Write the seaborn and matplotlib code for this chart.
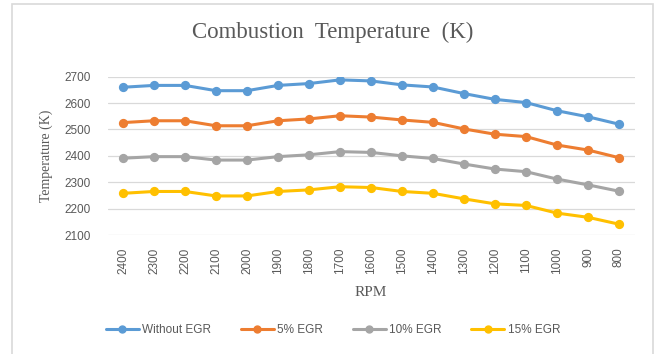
import matplotlib
matplotlib.use("Agg")
import matplotlib.pyplot as plt
from matplotlib.patches import Rectangle
from matplotlib.lines import Line2D
import seaborn as sns
import pandas as pd

rpm = ["2400", "2300", "2200", "2100", "2000", "1900", "1800", "1700", "1600",
       "1500", "1400", "1300", "1200", "1100", "1000", "900", "800"]
without_egr = [2660, 2667, 2667, 2647, 2647, 2667, 2674, 2688, 2684,
               2669, 2661, 2636, 2614, 2602, 2571, 2548, 2520]
egr_5 = [2526, 2533, 2533, 2514, 2514, 2533, 2540, 2552, 2547,
         2536, 2527, 2502, 2482, 2473, 2441, 2422, 2393]
egr_10 = [2391, 2397, 2397, 2384, 2384, 2397, 2404, 2416, 2413,
          2400, 2390, 2369, 2350, 2340, 2312, 2290, 2266]
egr_15 = [2258, 2265, 2265, 2248, 2248, 2265, 2271, 2283, 2280,
          2265, 2258, 2237, 2218, 2212, 2183, 2167, 2141]
series_names = ["Without EGR", "5% EGR", "10% EGR", "15% EGR"]
y_ticks = [2100, 2200, 2300, 2400, 2500, 2600, 2700]

colors = ["#5B9BD5", "#ED7D31", "#A5A5A5", "#FFC000"]
text_gray = "#595959"
sans = ["Liberation Sans Narrow", "Liberation Sans", "DejaVu Sans"]
serif = ["Liberation Serif", "DejaVu Serif"]

sns.set_theme(style="white")
plt.rcParams["font.family"] = sans

frames = []
for name, vals in zip(series_names, [without_egr, egr_5, egr_10, egr_15]):
    frames.append(pd.DataFrame({"RPM": rpm, "Temp": vals, "Series": name}))
df = pd.concat(frames, ignore_index=True)

fig = plt.figure(figsize=(6.57, 3.54), dpi=100)
ax = fig.add_axes([107.5 / 657, 1 - 235 / 354, (634.5 - 107.5) / 657, (235 - 76.7) / 354])

sns.pointplot(data=df, x="RPM", y="Temp", hue="Series", order=rpm,
              hue_order=series_names, palette=colors, markers="o",
              linestyles="-", errorbar=None, dodge=False, ax=ax,
              markersize=5, linewidth=2.2, legend=False)

ax.set_ylim(2100, 2700)
ax.set_yticks(y_ticks)
ax.set_xlim(-0.5, len(rpm) - 0.5)
ax.grid(axis="y", color="#D9D9D9", linewidth=0.9)
ax.set_axisbelow(True)
for s in ax.spines.values():
    s.set_visible(False)
ax.tick_params(axis="both", length=0, colors=text_gray, labelsize=8.5)
ax.tick_params(axis="y", pad=12)
ax.tick_params(axis="x", pad=9)
plt.setp(ax.get_xticklabels(), rotation=90)

ax.set_xlabel("RPM", family=serif, fontsize=11, color=text_gray, labelpad=9)
ax.set_ylabel("Temperature (K)", family=serif, fontsize=10, color=text_gray, labelpad=8)

fig.text(333 / 657, 1 - 32 / 354, "Combustion  Temperature  (K)", family=serif,
         fontsize=16.5, color=text_gray, ha="center", va="center")

handles = [Line2D([0], [0], color=c, lw=2.2, marker="o", markersize=5) for c in colors]
fig.legend(handles, series_names, loc="center", bbox_to_anchor=(333 / 657, 1 - 330 / 354),
           ncol=4, frameon=False, fontsize=8.5, labelcolor=text_gray,
           handlelength=2.8, columnspacing=2.5, handletextpad=0.3)

fig.patches.append(Rectangle((12 / 657, -0.05), (653 - 12) / 657, 1.05 - 4 / 354,
                             transform=fig.transFigure, fill=False,
                             edgecolor="#D9D9D9", linewidth=1.2))

fig.savefig("out.png", dpi=100)
